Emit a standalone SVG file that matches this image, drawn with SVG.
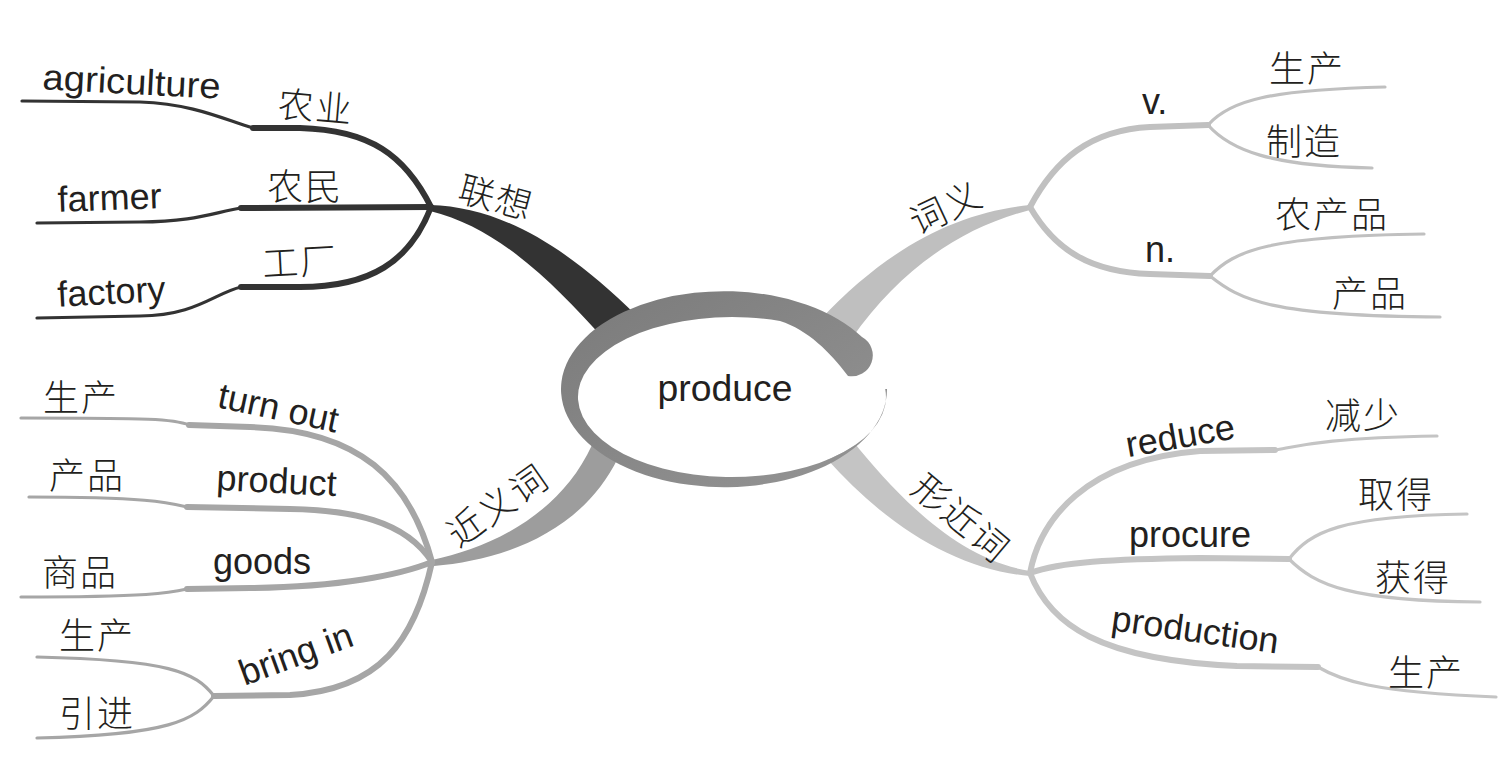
<svg xmlns="http://www.w3.org/2000/svg" width="1503" height="766" viewBox="0 0 1503 766">
<style>
.en{font-family:"Liberation Sans",Arial,sans-serif;font-size:36px;fill:#231f20}
.cn{font-family:"Noto Sans CJK SC",sans-serif;font-size:36px;font-weight:300;fill:#231f20;letter-spacing:2px;text-anchor:middle;dominant-baseline:central}
.mid{text-anchor:middle}
.ln{fill:none;stroke-linecap:round}
.thick{stroke-width:6}
.thin{stroke-width:3.2}
.dark{stroke:#333333}
.lg{stroke:#c0c0c0}
.mg{stroke:#a6a6a6}
.rg{stroke:#c4c4c4}
</style>
<defs>
<linearGradient id="band" x1="0" y1="0" x2="1" y2="1">
<stop offset="0" stop-color="#7a7a7a"/>
<stop offset="1" stop-color="#959595"/>
</linearGradient>
</defs>
<g id="connectors">
<path d="M430,205 C500,207 565,245 637,316 L603,338 C555,285 500,228 430,211 Z" fill="#333333"/>
<path class="ln thick dark" d="M431,207 C405,155 370,130 300,128 L253,128"/>
<path class="ln thick dark" d="M431,207 L241,208"/>
<path class="ln thick dark" d="M431,207 C410,262 370,287 300,287 L241,287"/>
<path class="ln thin dark" d="M253,128 C225,120 195,104 140,102 L22,101"/>
<path class="ln thin dark" d="M241,208 C215,212 195,222 140,222 L37,223"/>
<path class="ln thin dark" d="M241,287 C215,293 195,316 140,316 L37,318"/>

<path d="M1030,205 C960,212 890,245 820,320 L852,338 C900,270 960,228 1030,210 Z" fill="#bfbfbf"/>
<path class="ln thick lg" d="M1030,207 C1055,160 1090,130 1150,127 L1208,125"/>
<path class="ln thick lg" d="M1030,207 C1055,250 1090,272 1150,274 L1210,276"/>
<path class="ln thin lg" d="M1208,125 C1230,100 1270,90 1385,87"/>
<path class="ln thin lg" d="M1208,125 C1230,150 1270,166 1372,168"/>
<path class="ln thin lg" d="M1210,276 C1235,250 1270,236 1424,234"/>
<path class="ln thin lg" d="M1210,276 C1240,300 1270,316 1440,317"/>

<path d="M432,560 C490,548 560,515 592,445 L618,458 C580,535 500,560 434,566 Z" fill="#9d9d9d"/>
<path class="ln thick mg" d="M432,562 C410,480 360,430 250,427 L189,425"/>
<path class="ln thin mg" d="M189,425 C175,419 150,418 21,418"/>
<path class="ln thick mg" d="M432,562 C405,520 350,510 290,509 L187,507"/>
<path class="ln thin mg" d="M187,507 C170,503 150,497 29,497"/>
<path class="ln thick mg" d="M432,562 C400,575 340,587 250,588 L187,589"/>
<path class="ln thin mg" d="M187,589 C170,593 150,597 21,597"/>
<path class="ln thick mg" d="M432,562 C415,640 380,690 290,695 L214,696"/>
<path class="ln thin mg" d="M214,696 C195,672 170,660 37,657"/>
<path class="ln thin mg" d="M214,696 C195,720 170,735 37,738"/>

<path d="M852,440 C900,500 960,560 1030,571 L1030,576 C960,570 890,530 826,458 Z" fill="#c4c4c4"/>
<path class="ln thick rg" d="M1030,573 C1040,520 1085,460 1200,451 L1275,450"/>
<path class="ln thin rg" d="M1275,450 C1295,447 1320,438 1437,436"/>
<path class="ln thick rg" d="M1030,573 C1060,562 1110,559 1200,558 L1289,559"/>
<path class="ln thin rg" d="M1289,559 C1310,532 1340,516 1467,514"/>
<path class="ln thin rg" d="M1289,559 C1315,585 1350,601 1480,602"/>
<path class="ln thick rg" d="M1030,573 C1050,625 1100,660 1237,666 L1318,667"/>
<path class="ln thin rg" d="M1318,667 C1340,680 1370,692 1496,697"/>
</g>

<g id="center">
<ellipse cx="732" cy="397" rx="154" ry="80" fill="#ffffff"/>
<path d="M862,337 A163,98 0 1 0 887,389 L885.2,389 A154,80 0 1 1 780,321 C808,330 830,352 848,376 A21,21 0 0 0 862,337 Z" fill="url(#band)"/>
<text class="en mid" x="725" y="401" textLength="135" lengthAdjust="spacingAndGlyphs">produce</text>
</g>

<g id="lianxiang">
<text class="cn" transform="translate(497,195) rotate(15)">联想</text>
<text class="cn" transform="translate(316,104) rotate(5)">农业</text>
<text class="cn" x="305" y="184">农民</text>
<text class="cn" transform="translate(300,259) rotate(-3)">工厂</text>
<text class="en mid" transform="translate(131,94) rotate(3)" textLength="178" lengthAdjust="spacingAndGlyphs">agriculture</text>
<text class="en mid" transform="translate(110,210) rotate(-2)">farmer</text>
<text class="en mid" transform="translate(112,304) rotate(-3)">factory</text>
</g>

<g id="ciyi">
<text class="cn" transform="translate(945,205) rotate(-25)">词义</text>
<text class="en" x="1142" y="114">v.</text>
<text class="cn" x="1307" y="66">生产</text>
<text class="cn" x="1304" y="139">制造</text>
<text class="en" x="1145" y="262">n.</text>
<text class="cn" x="1332" y="212">农产品</text>
<text class="cn" x="1370" y="291">产品</text>
</g>

<g id="jinyici">
<text class="cn" transform="translate(496,503) rotate(-35)">近义词</text>
<text class="en mid" transform="translate(278,410) rotate(12)" y="10">turn out</text>
<text class="cn" x="81" y="395">生产</text>
<text class="en mid" transform="translate(276,493) rotate(3)">product</text>
<text class="cn" x="87" y="473">产品</text>
<text class="en mid" x="262" y="574">goods</text>
<text class="cn" x="80" y="570">商品</text>
<text class="en mid" transform="translate(297,657) rotate(-20)" y="9">bring in</text>
<text class="cn" x="97" y="633">生产</text>
<text class="cn" x="97" y="711">引进</text>
</g>

<g id="xingjinci">
<text class="cn" transform="translate(963,516) rotate(40)">形近词</text>
<text class="en mid" transform="translate(1180,435) rotate(-10)" y="13">reduce</text>
<text class="cn" x="1363" y="413">减少</text>
<text class="en mid" x="1190" y="547">procure</text>
<text class="cn" x="1396" y="492">取得</text>
<text class="cn" x="1413" y="575">获得</text>
<text class="en mid" transform="translate(1195,632) rotate(8)" y="10">production</text>
<text class="cn" x="1426" y="670">生产</text>
</g>
</svg>
